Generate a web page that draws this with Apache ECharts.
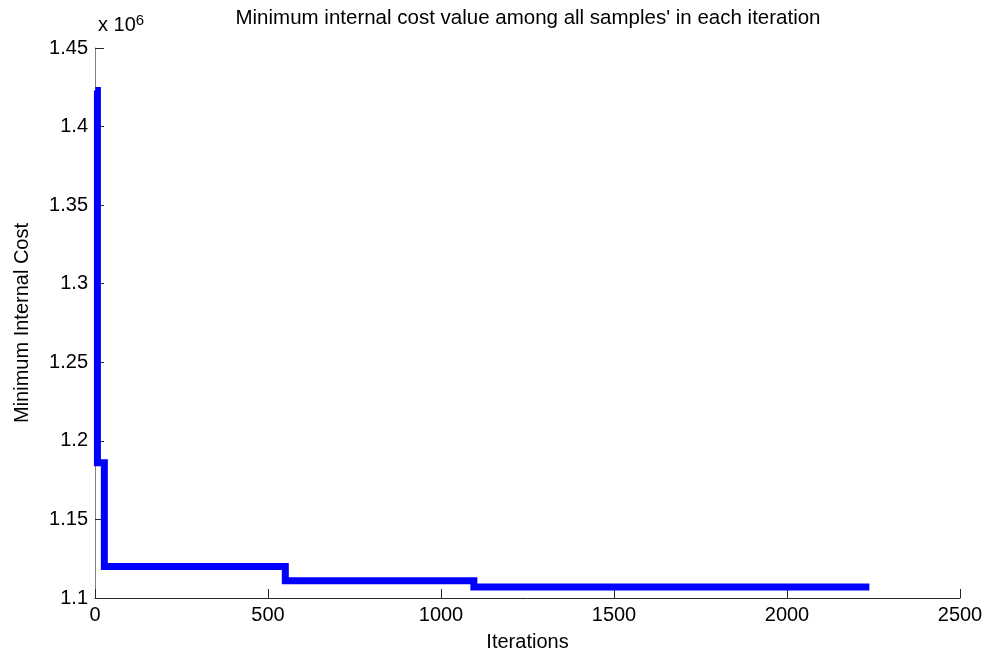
<!DOCTYPE html>
<html lang="en">

<head>
    <meta charset="UTF-8">
    <title>Minimum internal cost</title>
    <script src="https://cdn.jsdelivr.net/npm/echarts@6/dist/echarts.min.js"></script>
    <style>
        html, body { margin: 0; padding: 0; background: #fff; }
    </style>
</head>

<body>
    <div id="main" style="width: 989px;height:662px;"></div>
    <script type="text/javascript">
        // iterations where the minimum cost changes, and the cost from there on
        var iterations = [1, 7, 27, 550, 1095, 2238];
        var minCost = [1.423e6, 1.186e6, 1.12e6, 1.111e6, 1.107e6, 1.107e6];
        var xTicks = [0, 500, 1000, 1500, 2000, 2500];
        var yTicks = [1.1, 1.15, 1.2, 1.25, 1.3, 1.35, 1.4, 1.45];

        var font = 'Liberation Sans, Arial, sans-serif';
        var chart = echarts.init(document.getElementById('main'));

        var option = {
            animation: false,
            backgroundColor: '#fff',
            title: [{
                text: 'x 10{sup|6}',
                left: 93,
                top: 8,
                textStyle: {
                    fontFamily: font, fontSize: 20, fontWeight: 'normal', color: '#000',
                    rich: { sup: { fontFamily: font, fontSize: 15, color: '#000', verticalAlign: 'top', padding: [0, 0, 9, 0] } }
                }
            }],
            graphic: [{
                type: 'text',
                x: 528,
                y: 8,
                style: {
                    text: "Minimum internal cost value among all samples' in each iteration",
                    font: '20.5px ' + font,
                    fill: '#000',
                    textAlign: 'center',
                    textVerticalAlign: 'top'
                }
            }],
            grid: { left: 95, right: 29, top: 48, bottom: 64, containLabel: false },
            xAxis: {
                type: 'value',
                min: xTicks[0],
                max: xTicks[xTicks.length - 1],
                interval: 500,
                name: 'Iterations',
                nameLocation: 'middle',
                nameGap: 34,
                nameTextStyle: { fontFamily: font, fontSize: 20, color: '#000' },
                axisLine: { show: true, lineStyle: { color: '#262626', width: 1 } },
                axisTick: { show: true, inside: true, length: 9, lineStyle: { color: '#262626' } },
                axisLabel: {
                    fontFamily: font, fontSize: 20, color: '#000', margin: 7,
                    formatter: function (v) { return String(v); }
                },
                splitLine: { show: false }
            },
            yAxis: {
                type: 'value',
                min: yTicks[0] * 1e6,
                max: yTicks[yTicks.length - 1] * 1e6,
                interval: 0.05e6,
                name: 'Minimum Internal Cost',
                nameLocation: 'middle',
                nameGap: 63,
                nameTextStyle: { fontFamily: font, fontSize: 20, color: '#000' },
                axisLine: { show: true, lineStyle: { color: '#808080', width: 1 } },
                axisTick: { show: true, inside: true, length: 9, lineStyle: { color: '#262626' } },
                axisLabel: {
                    fontFamily: font, fontSize: 20, color: '#000', margin: 7,
                    formatter: function (v) { return String(parseFloat((v / 1e6).toFixed(2))); }
                },
                splitLine: { show: false }
            },
            series: [{
                type: 'line',
                step: 'end',
                data: iterations.map(function (it, i) { return [it, minCost[i]]; }),
                symbol: 'none',
                lineStyle: { color: '#0000ff', width: 7, cap: 'butt', join: 'miter' }
            }]
        };

        chart.setOption(option);
    </script>
</body>

</html>
